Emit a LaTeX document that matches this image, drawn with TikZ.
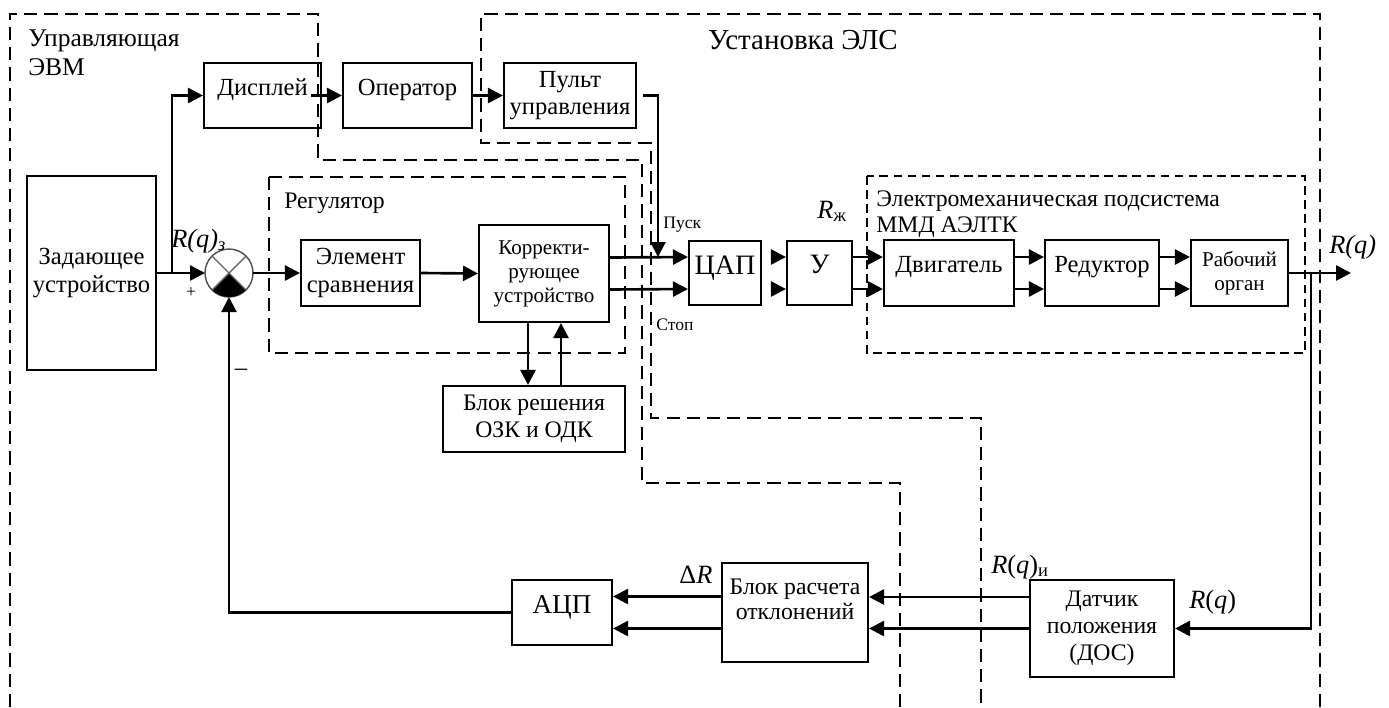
\documentclass[tikz,border=0pt]{standalone}
\usepackage{fontspec}
\setmainfont{Liberation Serif}
\usetikzlibrary{arrows.meta,positioning}

\begin{document}
\begin{tikzpicture}
	[x=0.02cm,y=-0.02cm,>={Triangle[length=0.3cm,width=0.3cm]},line width=1.5pt]
	\tikzstyle{block}=[rectangle, draw, line width=1.2pt, align=center, inner sep=1pt, font=\fontsize{14}{15.5}\selectfont];
	\tikzstyle{smalltext}=[font=\fontsize{12}{13.7}\selectfont];
	\tikzstyle{midtext}=[font=\fontsize{13.5}{15.4}\selectfont];
	\tikzstyle{bigtext}=[font=\fontsize{16}{18}\selectfont];
	\tikzstyle{upper}=[text depth=0.33cm];
	\tikzstyle{lbl}=[inner sep=0, anchor=base west];
	\tikzstyle{frame}=[line width=1.1pt, dash pattern=on 7.5pt off 4pt];
	\tikzstyle{subframe}=[line width=1pt, dash pattern=on 5pt off 3pt];

	\useasboundingbox (0,0) rectangle (1389,707);

	% dashed frames
	\draw[frame] (10,707) -- (10,14) -- (318,14) -- (318,160) -- (642,160) -- (642,483) -- (900,483) -- (900,707);
	\draw[frame] (1320,707) -- (1320,14) -- (481,14) -- (481,143) -- (651,143) -- (651,418) -- (981,418) -- (981,707);
	\draw[frame] (269,177) rectangle (625,353);
	\draw[subframe] (867,176) rectangle (1305,353);

	\node[inner sep=0, anchor=north west, align=left, font=\fontsize{14.5}{17}\selectfont] (evm) at (27,28) {Управляющая\\ЭВМ};
	\node[inner sep=0, anchor=base, font=\fontsize{16.5}{18}\selectfont] (els) at (803,49) {Установка ЭЛС};
	\node[lbl, midtext] (reg) at (283,208) {Регулятор};
	\node[inner sep=0, anchor=north west, align=left, font=\fontsize{13.5}{15}\selectfont] (ems) at (875,189) {Электромеханическая подсистема\\ММД АЭЛТК};

	% blocks
	\node[block, minimum width=2.58cm, minimum height=3.88cm] (zad) at (91.5,273) {Задающее\\устройство};
	\node[block, upper, minimum width=2.34cm, minimum height=1.3cm] (disp) at (262.5,95.5) {Дисплей};
	\node[block, upper, minimum width=2.58cm, minimum height=1.3cm] (oper) at (407.5,95.5) {Оператор};
	\node[block, minimum width=2.64cm, minimum height=1.3cm] (pult) at (570,95.5) {Пульт\\управления};
	\node[circle, draw=black!70, line width=0.8pt, minimum size=0.96cm, inner sep=0, outer sep=0] (sum) at (229,273) {};
	\node[block, minimum width=2.38cm, minimum height=1.32cm] (elem) at (360.5,273) {Элемент\\сравнения};
	\node[block, smalltext, minimum width=2.6cm, minimum height=1.94cm] (korr) at (544,273.5) {Корректи-\\рующее\\устройство};
	\node[block, midtext, minimum width=3.64cm, minimum height=1.32cm] (blok) at (534,419) {Блок решения\\ОЗК и ОДК};
	\node[block, upper, bigtext, minimum width=1.44cm, minimum height=1.28cm] (cap) at (725,273) {ЦАП};
	\node[block, upper, bigtext, minimum width=1.3cm, minimum height=1.28cm] (usil) at (819.5,273) {У};
	\node[block, upper, minimum width=2.6cm, minimum height=1.32cm] (dvig) at (949,273) {Двигатель};
	\node[block, upper, minimum width=2.28cm, minimum height=1.32cm] (red) at (1102,273) {Редуктор};
	\node[block, smalltext, minimum width=1.94cm, minimum height=1.32cm] (rab) at (1239.5,273) {Рабочий\\орган};
	\node[block, midtext, minimum width=2.88cm, minimum height=1.94cm] (dat) at (1102,628.5) {Датчик\\положения\\(ДОС)};
	\node[block, font=\fontsize{13.5}{14.2}\selectfont, text depth=0.53cm, minimum width=2.92cm, minimum height=1.98cm] (rasch) at (795,612.5) {Блок расчета\\отклонений};
	\node[block, upper, font=\fontsize{15.5}{17}\selectfont, minimum width=2cm, minimum height=1.3cm] (acp) at (562,612.5) {АЦП};

	% summing junction
	\fill (sum.center) -- (sum.-45) arc[start angle=-45, end angle=-135, radius=0.48cm] -- cycle;
	\draw[black!60, line width=0.8pt] (sum.45) -- (sum.-135) (sum.135) -- (sum.-45);

	\coordinate (fork) at (172,273);
	\coordinate (pusk) at (658,257);
	\coordinate (out) at (1351,273);
	\coordinate (br) at (1311,273);

	% signals
	\draw[->] (zad.east) -- (sum.west);
	\draw[->] (fork) |- (disp.west);
	\draw[->, shorten <=-0.22cm] (disp.east) -- (oper.west);
	\draw[->] (oper.east) -- (pult.west);
	\draw[->, line width=1.3pt] ([xshift=0.12cm]pult.east) -| (pusk);
	\draw[->] (sum.east) -- (elem.west);
	\draw[->] (elem.east) -- (korr.west);
	\draw[->] ([xshift=-0.32cm]korr.south) -- ([xshift=-0.32cm]korr.south |- blok.north);
	\draw[->] ([xshift=0.34cm]korr.south |- blok.north) -- ([xshift=0.34cm]korr.south);
	\foreach \s in {0.32cm,-0.32cm}
	{
		\draw[->] ([yshift=\s]korr.east) -- ([yshift=\s]cap.west);
		\draw[->, shorten <=0.22cm] ([yshift=\s]cap.east) -- ([yshift=\s]usil.west);
		\draw[->] ([yshift=\s]usil.east) -- ([yshift=\s]dvig.west);
		\draw[->] ([yshift=\s]dvig.east) -- ([yshift=\s]red.west);
		\draw[->] ([yshift=\s]red.east) -- ([yshift=\s]rab.west);
		\draw[->] ([yshift=\s]rasch.west) -- ([yshift=\s]acp.east);
	}
	\draw[->] (rab.east) -- (out);
	\draw[->] (br) |- (dat.east);
	\draw[->] ([yshift=0.63cm]dat.west) -- ([yshift=0.63cm]dat.west -| rasch.east);
	\draw[->] (dat.west) -- (dat.west -| rasch.east);
	\draw[->, line width=1.2pt] (acp.west) -| (sum.south);

	% labels
	\node[lbl, font=\fontsize{15}{17}\selectfont] (rz) at (170,247) {\textit{R(q)\textsubscript{з}}};
	\node[font=\fontsize{10}{12}\selectfont] (plus) at (191,293) {+};
	\node[font=\fontsize{14}{16}\selectfont] (minus) at (241,372) {–};
	\node[lbl, font=\fontsize{10}{12}\selectfont] (start) at (662,228) {Пуск};
	\node[lbl, font=\fontsize{10}{12}\selectfont] (stop) at (655,330) {Стоп};
	\node[lbl, font=\fontsize{15}{17}\selectfont] (rzh) at (816,218) {\textit{R}\textsubscript{ж}};
	\node[lbl, font=\fontsize{15}{17}\selectfont] (rout) at (1328,253) {\textit{R(q)}};
	\node[lbl, font=\fontsize{15}{17}\selectfont] (dr) at (678,583) {Δ\textit{R}};
	\node[lbl, font=\fontsize{15}{17}\selectfont] (ri) at (990,573) {\textit{R}(\textit{q})\textsubscript{и}};
	\node[lbl, font=\fontsize{15}{17}\selectfont] (rd) at (1188,608) {\textit{R}(\textit{q})};

\end{tikzpicture}
\end{document}
